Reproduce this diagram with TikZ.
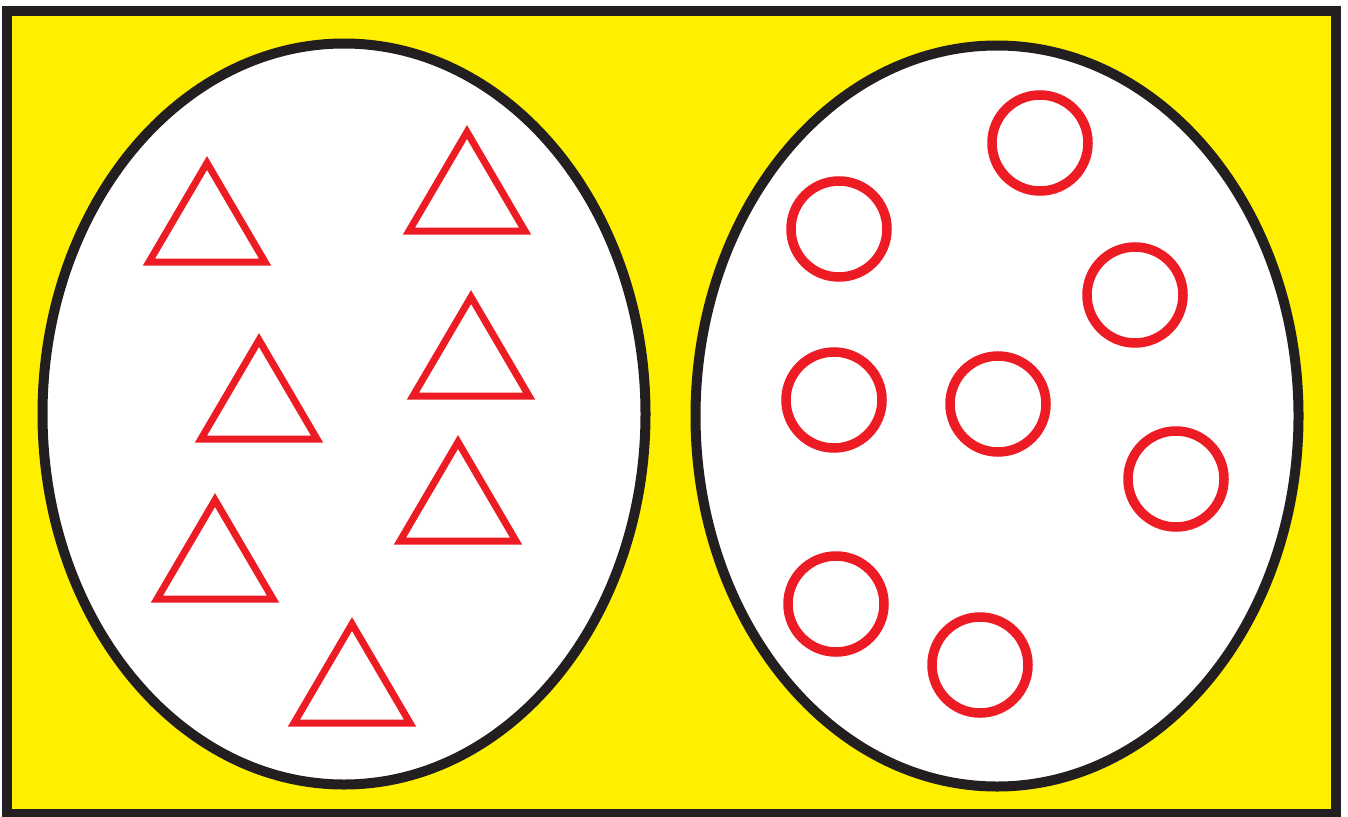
\documentclass[tikz,border=0pt]{standalone}
\usetikzlibrary{shapes.geometric}
\definecolor{bgyellow}{RGB}{255,240,0}
\definecolor{tred}{RGB}{237,28,36}
\definecolor{edge}{RGB}{35,31,32}
\begin{document}
\begin{tikzpicture}[x=1pt,y=-1pt,
  frame/.style={draw=edge,line width=10pt,fill=bgyellow},
  setell/.style={draw=edge,line width=10pt,fill=white,ellipse,inner sep=0pt,minimum width=603pt,minimum height=741pt},
  tri/.style={draw=tred,line width=7pt,miter limit=10},
  circ/.style={draw=tred,line width=9.5pt,circle,inner sep=0pt,minimum size=96pt,fill=white}]
\useasboundingbox (0,0) rectangle (1348,816);
\draw[frame] (7,11) rectangle (1336,814);
\node[setell] (left) at (344,414) {};
\node[setell] (right) at (997,416) {};
% triangles: apex coordinates
\foreach \ax/\ay in {207/163, 467/132, 259/340, 471/297, 458/442, 215/500, 352/624}{
  \draw[tri] (\ax,\ay) -- ++(58,99) -- ++(-116,0) -- cycle;
}
\node[circ] (c1) at (1040,143) {};
\node[circ] (c2) at (839,229) {};
\node[circ] (c3) at (1135,295) {};
\node[circ] (c4) at (834,400) {};
\node[circ] (c5) at (998,404) {};
\node[circ] (c6) at (1176,479) {};
\node[circ] (c7) at (836,604) {};
\node[circ] (c8) at (980,665) {};
\end{tikzpicture}
\end{document}
